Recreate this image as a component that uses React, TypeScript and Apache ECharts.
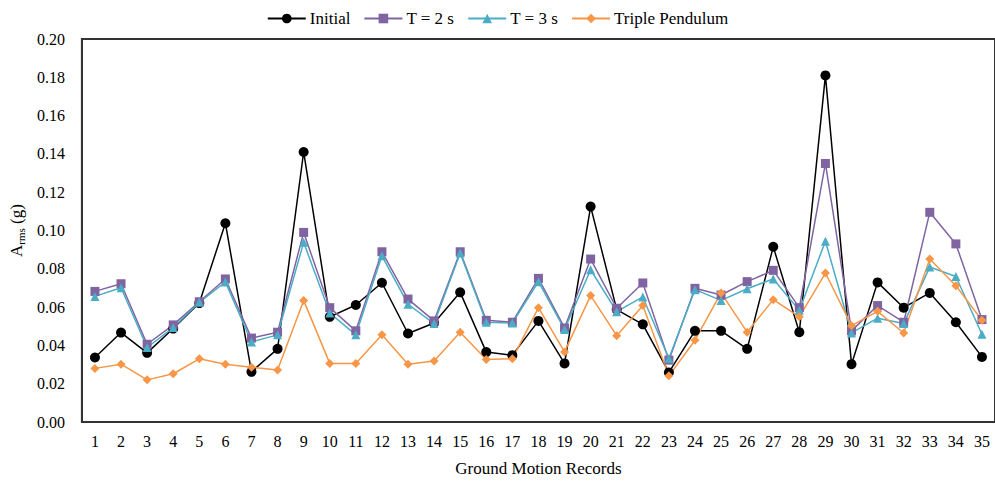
import React, { useEffect, useRef } from "react";
import * as echarts from "echarts";

const categories = Array.from({ length: 35 }, (_, i) => String(i + 1));

const initial = [
  0.0337, 0.0467, 0.0361, 0.0488, 0.0621, 0.1038, 0.0262, 0.0382, 0.141, 0.0549,
  0.0611, 0.0727, 0.0462, 0.0517, 0.0677, 0.0365, 0.0349, 0.0528, 0.0306, 0.1125,
  0.0587, 0.051, 0.0259, 0.0476, 0.0476, 0.0382, 0.0915, 0.0469, 0.181, 0.0302,
  0.0729, 0.0597, 0.0674, 0.0521, 0.034,
];
const t2 = [
  0.0682, 0.0722, 0.0406, 0.0507, 0.0628, 0.0747, 0.0438, 0.0469, 0.099, 0.0597,
  0.0476, 0.0889, 0.0642, 0.0528, 0.0889, 0.0531, 0.0521, 0.075, 0.0491, 0.0851,
  0.0594, 0.0726, 0.0323, 0.0698, 0.0663, 0.0733, 0.0792, 0.0597, 0.135, 0.0476,
  0.0608, 0.0521, 0.1095, 0.093, 0.0535,
];
const t3 = [
  0.0656, 0.0701, 0.0389, 0.0493, 0.0625, 0.0731, 0.0418, 0.0455, 0.0938, 0.0569,
  0.0455, 0.0868, 0.0615, 0.0514, 0.0882, 0.0521, 0.0517, 0.0733, 0.0483, 0.0795,
  0.0576, 0.0653, 0.0332, 0.0691, 0.0635, 0.0696, 0.0747, 0.0583, 0.0944, 0.0465,
  0.0542, 0.0514, 0.0809, 0.076, 0.0458,
];
const triple = [
  0.028, 0.0302, 0.022, 0.0252, 0.033, 0.0302, 0.0286, 0.0271, 0.0635, 0.0306,
  0.0306, 0.0455, 0.0302, 0.0319, 0.0469, 0.0326, 0.033, 0.0597, 0.0366, 0.066,
  0.0451, 0.0608, 0.0241, 0.0427, 0.0674, 0.0469, 0.0639, 0.0549, 0.0778, 0.0503,
  0.0578, 0.0465, 0.0851, 0.0712, 0.0531,
];

const FONT = "Liberation Serif";

export default function App() {
  const ref = useRef<HTMLDivElement>(null);
  useEffect(() => {
    document.body.style.margin = "0";
    const chart = echarts.init(ref.current!, null, { renderer: "svg" });
    const mk = (name: string, data: number[], color: string, symbol: string, size: number) => ({
      name,
      type: "line",
      data,
      symbol,
      symbolSize: size,
      lineStyle: { color, width: 1.5 },
      itemStyle: { color },
      emphasis: { disabled: true },
    });
    chart.setOption({
      animation: false,
      textStyle: { fontFamily: FONT },
      legend: {
        top: 5,
        left: "center",
        itemWidth: 38,
        itemHeight: 12,
        itemGap: 13,
        textStyle: { fontFamily: FONT, fontSize: 17, color: "#000", padding: [0, 0, 0, -1] },
        data: ["Initial", "T = 2 s", "T = 3 s", "Triple Pendulum"],
      },
      grid: {
        left: 80,
        top: 39,
        width: 921,
        height: 383,
        show: true,
        borderColor: "#333",
        borderWidth: 2,
      },
      xAxis: {
        type: "category",
        data: categories,
        boundaryGap: true,
        axisLine: { show: true, lineStyle: { color: "#333", width: 2 } },
        axisTick: { show: false },
        axisLabel: { color: "#000", fontFamily: FONT, fontSize: 16, margin: 11, interval: 0 },
        name: "Ground Motion Records",
        nameLocation: "middle",
        nameGap: 38,
        nameTextStyle: { color: "#000", fontFamily: FONT, fontSize: 17 },
      },
      yAxis: {
        type: "value",
        min: 0,
        max: 0.2,
        interval: 0.02,
        splitLine: { show: false },
        axisLine: { show: true, lineStyle: { color: "#333", width: 2 } },
        axisTick: { show: false },
        axisLabel: {
          color: "#000",
          fontFamily: FONT,
          fontSize: 16,
          margin: 17,
          formatter: (v: number) => v.toFixed(2),
        },
        name: "{a|A}{s|rms}{a| (g)}",
        nameLocation: "middle",
        nameGap: 47,
        nameRotate: 90,
        nameTextStyle: {
          rich: {
            a: { fontFamily: FONT, fontSize: 17, color: "#000" },
            s: { fontFamily: FONT, fontSize: 11, color: "#000", verticalAlign: "bottom", padding: [8, 0, 0, 0] },
          },
        },
      },
      series: [
        mk("Initial", initial, "#000000", "circle", 10),
        mk("T = 2 s", t2, "#8064A2", "rect", 9),
        mk("T = 3 s", t3, "#4BACC6", "triangle", 9),
        mk("Triple Pendulum", triple, "#F79646", "diamond", 9),
      ],
    });
    return () => chart.dispose();
  }, []);
  return (
    <div
      ref={ref}
      style={{ position: "absolute", left: 0, top: 0, width: 995, height: 483 }}
    />
  );
}
